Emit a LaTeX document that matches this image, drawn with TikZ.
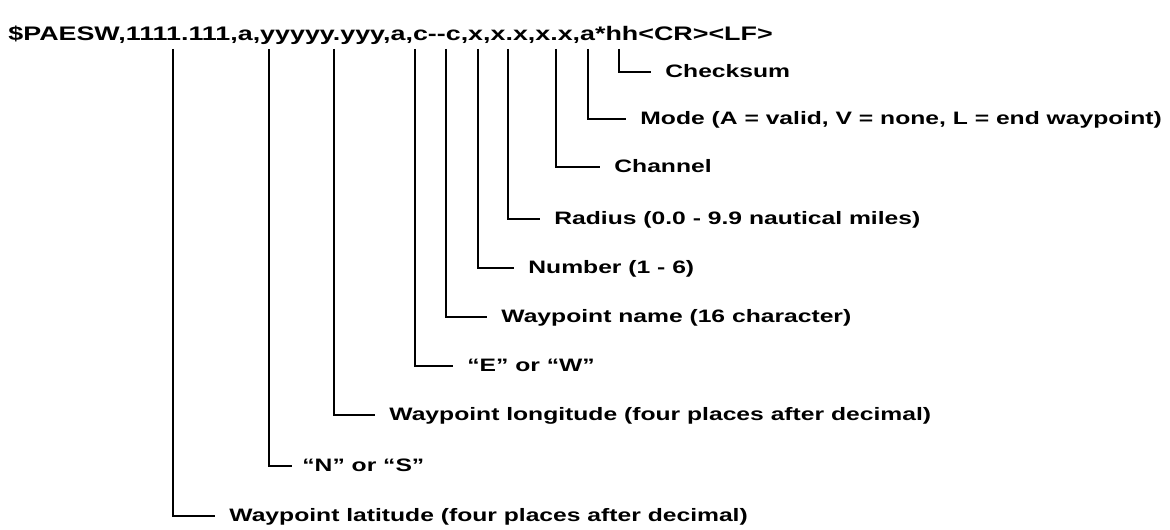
\documentclass[tikz,border=0pt]{standalone}
\usepackage{fontspec}
\setmainfont[FakeStretch=1.37,BoldFont={Liberation Sans Bold}]{Liberation Sans}
\usetikzlibrary{positioning}

\begin{document}
\begin{tikzpicture}[x=0.5pt, y=-0.5pt,
      every node/.style={font=\fontsize{9pt}{11pt}\selectfont\bfseries, inner sep=0pt},
      field/.style={anchor=west, text height=0.72em, text depth=0.2em},
      lead/.style={line width=1.4pt, line cap=butt, shorten >=7pt},
  ]
    \useasboundingbox (0,0) rectangle (1170,529);

    % sentence format
    \node[anchor=west, font=\fontsize{9.8pt}{11pt}\selectfont\bfseries] (hdr) at (8,35)
      {\$PAESW,1111.111,a,yyyyy.yyy,a,c-{}-c,x,x.x,x.x,a*hh<CR><LF>};

    % field descriptions
    \node[field] (chk)    at (665,72)  {Checksum};
    \node[field] (mode)   at (640,119) {Mode (A = valid, V = none, L = end waypoint)};
    \node[field] (chan)   at (614,167) {Channel};
    \node[field] (rad)    at (554,219) {Radius (0.0 - 9.9 nautical miles)};
    \node[field] (num)    at (528,268) {Number (1 - 6)};
    \node[field] (wpname) at (501,317) {Waypoint name (16 character)};
    \node[field] (ew)     at (467,366) {“E” or “W”};
    \node[field] (lon)    at (389,415) {Waypoint longitude (four places after decimal)};
    \node[field] (ns)     at (302,466) {“N” or “S”};
    \node[field] (lat)    at (229,516) {Waypoint latitude (four places after decimal)};

    % leader lines from the sentence
    \coordinate (chk-top)    at (619,49);
    \coordinate (mode-top)   at (588,49);
    \coordinate (chan-top)   at (556,49);
    \coordinate (rad-top)    at (508,49);
    \coordinate (num-top)    at (478,49);
    \coordinate (wpname-top) at (446,49);
    \coordinate (ew-top)     at (415,49);
    \coordinate (lon-top)    at (334,49);
    \coordinate (ns-top)     at (269,49);
    \coordinate (lat-top)    at (173,49);

    \draw[lead] (chk-top)    |- (chk.west);
    \draw[lead] (mode-top)   |- (mode.west);
    \draw[lead] (chan-top)   |- (chan.west);
    \draw[lead] (rad-top)    |- (rad.west);
    \draw[lead] (num-top)    |- (num.west);
    \draw[lead] (wpname-top) |- (wpname.west);
    \draw[lead] (ew-top)     |- (ew.west);
    \draw[lead] (lon-top)    |- (lon.west);
    \draw[lead, shorten >=5pt] (ns-top) |- (ns.west);
    \draw[lead] (lat-top)    |- (lat.west);
\end{tikzpicture}
\end{document}
